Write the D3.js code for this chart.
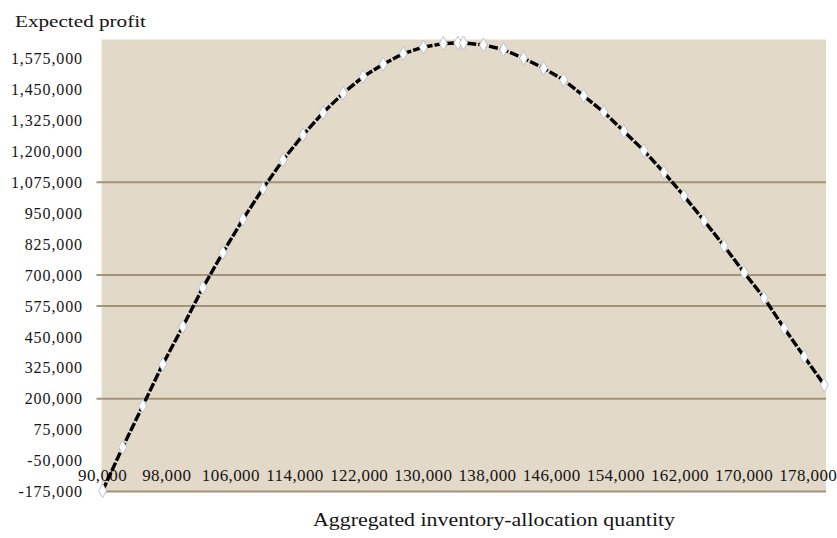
<!DOCTYPE html>
<html>
<head>
<meta charset="utf-8">
<script src="https://cdn.jsdelivr.net/npm/d3@7"></script>
<style>
  html, body { margin: 0; padding: 0; background: #ffffff; }
  svg { display: block; }
  text { font-family: "Liberation Serif", "Times New Roman", serif; fill: #141414; }
</style>
</head>
<body>
<svg id="chart" width="837" height="538"></svg>
<script>
// ---- data ----
const quantities = [90000, 92500, 95000, 97500, 100000, 102500, 105000, 107500, 110000, 112500,
  115000, 117500, 120000, 122500, 125000, 127500, 130000, 132500, 134300, 135000, 137500, 140000,
  142500, 145000, 147500, 150000, 152500, 155000, 157500, 160000, 162500, 165000, 167500, 170000,
  172500, 175000, 177500, 180000];
const profits = [-172000, 3700, 170600, 339200, 491200, 648900, 790400, 925400, 1049900, 1165200,
  1266200, 1356400, 1434800, 1501900, 1552400, 1595300, 1620800, 1635700, 1638200, 1638200, 1630100,
  1611100, 1576300, 1535900, 1488600, 1423900, 1358400, 1281200, 1202800, 1114600, 1019600, 919800,
  817500, 709500, 607300, 484800, 370000, 255500];
const yTicks = [-175000, -50000, 75000, 200000, 325000, 450000, 575000, 700000, 825000, 950000,
  1075000, 1200000, 1325000, 1450000, 1575000];
const gridValues = [200000, 575000, 700000, 1075000];
const xTicks = [90000, 98000, 106000, 114000, 122000, 130000, 138000, 146000, 154000, 162000, 170000, 178000];
const yTitle = "Expected profit";
const xTitle = "Aggregated inventory-allocation quantity";

// ---- layout ----
const plot = { left: 101.5, right: 826, top: 39.5, bottom: 491.5 };
const svg = d3.select("#chart");

const x = d3.scaleLinear().domain([90000, 180000]).range([102.6, 824.3]);
const y = d3.scaleLinear().domain([-175000, 1652000]).range([plot.bottom, plot.top]);
const fmt = d => d3.format(",")(d).replace("\u2212", "-");

// plot background
svg.append("rect")
  .attr("x", plot.left).attr("y", plot.top)
  .attr("width", plot.right - plot.left).attr("height", plot.bottom - plot.top)
  .attr("fill", "#e3d9c9");

// gridlines (only the visible ones)
svg.append("g").selectAll("line").data(gridValues).join("line")
  .attr("x1", plot.left - 5).attr("x2", plot.right)
  .attr("y1", d => y(d)).attr("y2", d => y(d))
  .attr("stroke", "#a29379").attr("stroke-width", 2);

// bottom axis line
svg.append("line")
  .attr("x1", plot.left).attr("x2", plot.right)
  .attr("y1", y(-175000)).attr("y2", y(-175000))
  .attr("stroke", "#a29379").attr("stroke-width", 2);

// y tick labels
svg.append("g").selectAll("text").data(yTicks).join("text")
  .attr("x", 83).attr("y", d => y(d) + 2)
  .attr("text-anchor", "end")
  .attr("dominant-baseline", "middle")
  .style("font-size", "16px")
  .style("letter-spacing", "0.9px")
  .text(d => fmt(d));

// x tick labels
svg.append("g").selectAll("text").data(xTicks).join("text")
  .attr("x", d => x(d)).attr("y", 477.5)
  .attr("text-anchor", "middle")
  .attr("dominant-baseline", "middle")
  .style("font-size", "17px")
  .style("letter-spacing", "0.4px")
  .text(d => fmt(d));

// titles
svg.append("text")
  .attr("x", 15).attr("y", 27)
  .style("font-size", "17px")
  .attr("textLength", 131).attr("lengthAdjust", "spacingAndGlyphs")
  .text(yTitle);

svg.append("text")
  .attr("x", 313).attr("y", 526)
  .style("font-size", "18px")
  .attr("textLength", 362).attr("lengthAdjust", "spacingAndGlyphs")
  .text(xTitle);

// line
const pts = quantities.map((q, i) => [q, profits[i]]);
const line = d3.line().x(d => x(d[0])).y(d => y(d[1]));
svg.append("path")
  .datum(pts)
  .attr("d", line)
  .attr("fill", "none")
  .attr("stroke", "#000")
  .attr("stroke-width", 3.4)
  .attr("stroke-dasharray", "9,2");

// diamond markers
const sym = d3.symbol().type(d3.symbolDiamond).size(55);
svg.append("g").selectAll("path").data(pts).join("path")
  .attr("transform", d => `translate(${x(d[0])},${y(d[1])})`)
  .attr("d", sym)
  .attr("fill", "#ffffff")
  .attr("stroke", "#b9c3cf")
  .attr("stroke-width", 1);
</script>
</body>
</html>
